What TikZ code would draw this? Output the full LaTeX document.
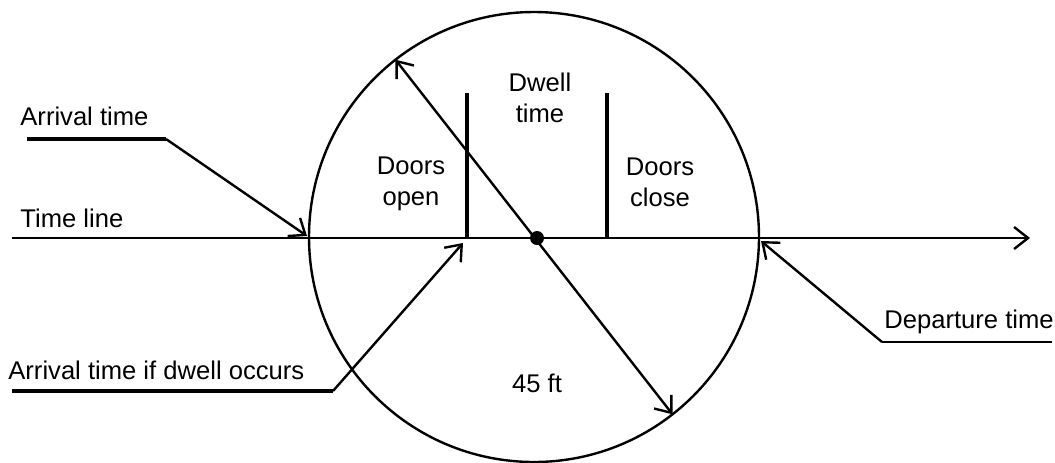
\documentclass[tikz,border=0pt]{standalone}
\usepackage{fontspec}
\setmainfont{Liberation Sans}
\usetikzlibrary{positioning, arrows.meta}

\tikzset{
  lbl/.style={font=\fontsize{12.8}{15.5}\selectfont, align=center, inner sep=0pt},
  leader/.style={line width=1.2pt, -{Straight Barb[length=7pt,width=11pt]}},
  underline/.style={line width=1.8pt},
  doorbar/.style={line width=2pt},
}

\begin{document}
\begin{tikzpicture}[x=0.5pt,y=-0.5pt]
\useasboundingbox (0,0) rectangle (1055,462);
% platform circle and its centre
\node at (534,237) (platform) [circle, draw, line width=1.2pt, minimum size=225pt, inner sep=0pt, outer sep=0pt] {};
\node at (537,238) (centre) [circle, fill, minimum size=7pt, inner sep=0pt] {};
% time line
\coordinate (tstart) at (12,238);
\coordinate (tend) at (1030,238);
\draw[leader] (tstart) -- (tend);
% door bars
\coordinate (openTop) at (467,93);
\coordinate (openBot) at (467,238);
\coordinate (closeTop) at (607,93);
\coordinate (closeBot) at (607,238);
\draw[doorbar] (openTop) -- (openBot);
\draw[doorbar] (closeTop) -- (closeBot);
% diameter
\draw[leader, {Straight Barb[length=7pt,width=11pt]}-{Straight Barb[length=7pt,width=11pt]}] (platform.128) -- (platform.-52);
% labels
\node at (20,125) (arr) [lbl, anchor=base west] {Arrival time};
\node at (20,227) (tline) [lbl, anchor=base west] {Time line};
\node at (8,379) (arrdwell) [lbl, anchor=base west] {Arrival time if dwell occurs};
\node at (884,328) (dep) [lbl, anchor=base west] {Departure time};
\node at (411,205) (dopen) [lbl, anchor=base] {Doors\\open};
\node at (540,122) (dwell) [lbl, anchor=base] {Dwell\\time};
\node at (660,206) (dclose) [lbl, anchor=base] {Doors\\close};
\node at (537,392) (dist) [lbl, anchor=base] {45 ft};
% leaders
\coordinate (arrL) at (27,139);
\coordinate (arrK) at (166,139);
\coordinate (arrTip) at (307,236);
\draw[underline] (arrL) -- (arrK);
\draw[leader] (arrK) -- (arrTip);
\coordinate (dwL) at (12,391);
\coordinate (dwK) at (333,391);
\coordinate (dwTip) at (463,243);
\draw[underline] (dwL) -- (dwK);
\draw[leader] (dwK) -- (dwTip);
\coordinate (depR) at (1052,342);
\coordinate (depK) at (882,342);
\coordinate (depTip) at (761,241);
\draw[line width=1.2pt] (depR) -- (depK);
\draw[leader] (depK) -- (depTip);
\end{tikzpicture}
\end{document}
